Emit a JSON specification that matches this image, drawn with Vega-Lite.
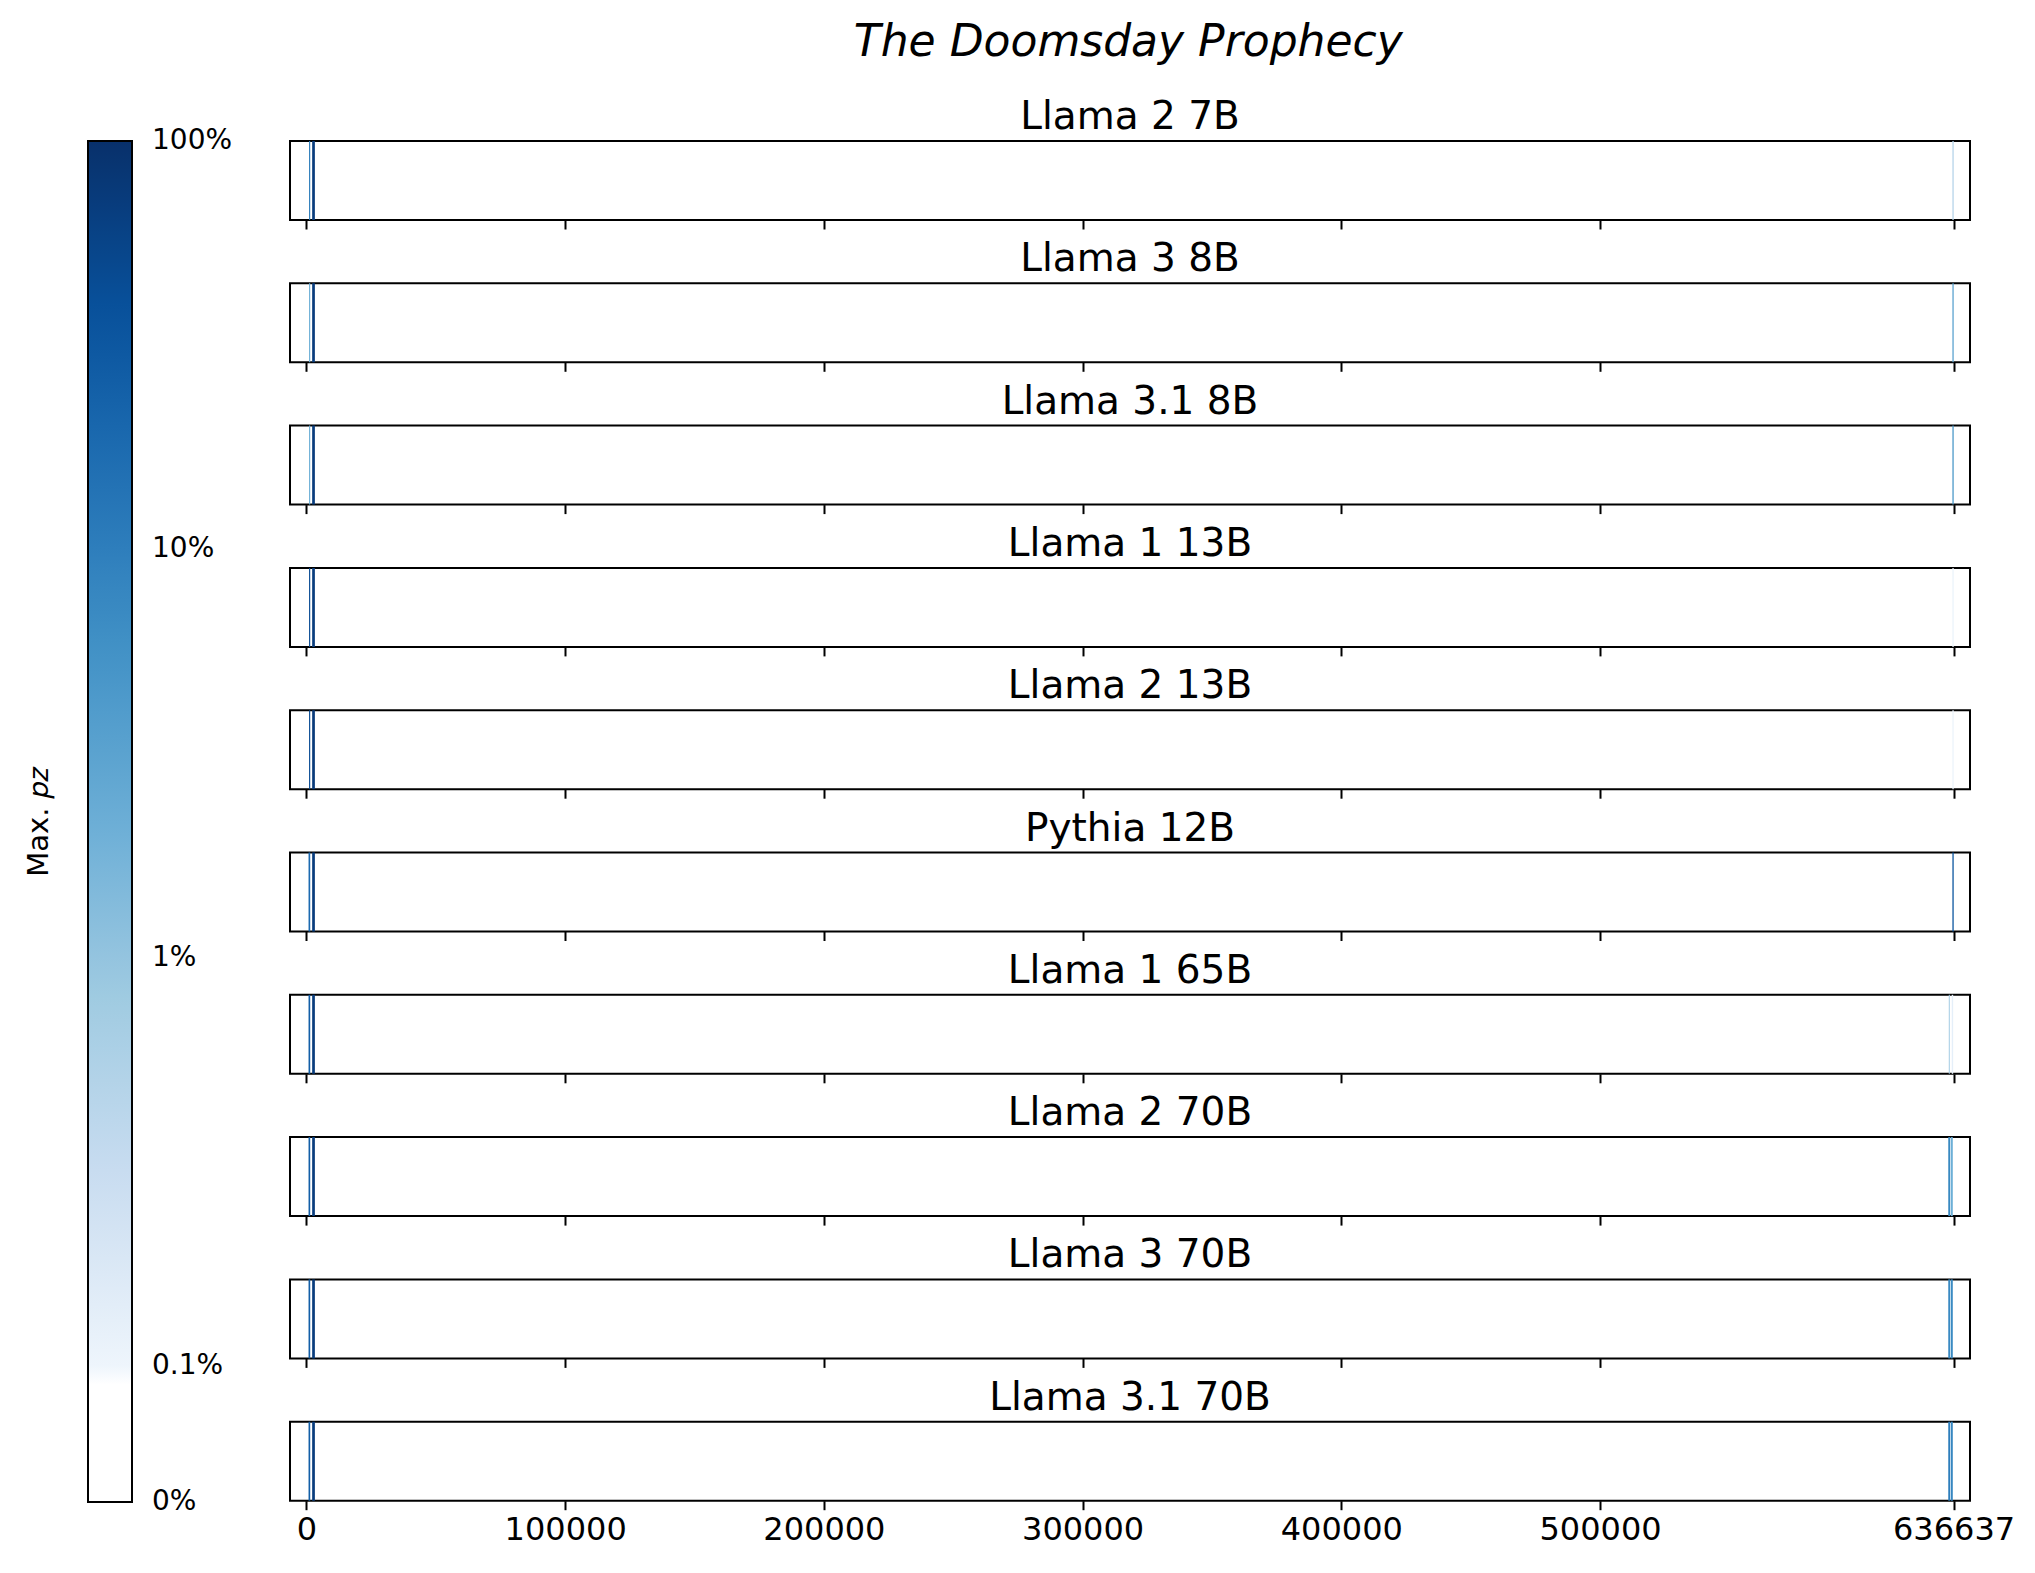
{
  "$schema": "https://vega.github.io/schema/vega-lite/v6.json",
  "background": "white",
  "padding": {"left": 25, "top": 21, "right": 40, "bottom": 10},
  "title": {"text": "The Doomsday Prophecy", "fontSize": 44, "fontStyle": "italic", "fontWeight": "normal", "font": "DejaVu Sans", "color": "black", "anchor": "middle", "offset": 32, "dx": 108},
  "data": {"values": [
    {"model": "Llama 2 7B", "start": 1000, "end": 1450, "p": 0.11},
    {"model": "Llama 2 7B", "start": 2200, "end": 3250, "p": 0.7},
    {"model": "Llama 2 7B", "start": 636200, "end": 636700, "p": 0.0046},
    {"model": "Llama 3 8B", "start": 1000, "end": 1450, "p": 0.021},
    {"model": "Llama 3 8B", "start": 2200, "end": 3250, "p": 0.7},
    {"model": "Llama 3 8B", "start": 636200, "end": 636700, "p": 0.032},
    {"model": "Llama 3.1 8B", "start": 1000, "end": 1450, "p": 0.021},
    {"model": "Llama 3.1 8B", "start": 2200, "end": 3250, "p": 0.7},
    {"model": "Llama 3.1 8B", "start": 636200, "end": 636700, "p": 0.046},
    {"model": "Llama 1 13B", "start": 1000, "end": 1450, "p": 0.46},
    {"model": "Llama 1 13B", "start": 2200, "end": 3250, "p": 0.7},
    {"model": "Llama 1 13B", "start": 636200, "end": 636700, "p": 0.0011},
    {"model": "Llama 2 13B", "start": 1000, "end": 1450, "p": 0.46},
    {"model": "Llama 2 13B", "start": 2200, "end": 3250, "p": 0.75},
    {"model": "Llama 2 13B", "start": 636200, "end": 636700, "p": 0.00105},
    {"model": "Pythia 12B", "start": 800, "end": 1450, "p": 0.18},
    {"model": "Pythia 12B", "start": 2200, "end": 3250, "p": 0.7},
    {"model": "Pythia 12B", "start": 636200, "end": 636700, "p": 0.35},
    {"model": "Llama 1 65B", "start": 800, "end": 1450, "p": 0.25},
    {"model": "Llama 1 65B", "start": 2200, "end": 3250, "p": 0.7},
    {"model": "Llama 1 65B", "start": 634800, "end": 635200, "p": 0.0068},
    {"model": "Llama 1 65B", "start": 635950, "end": 636500, "p": 0.0013},
    {"model": "Llama 2 70B", "start": 800, "end": 1450, "p": 0.25},
    {"model": "Llama 2 70B", "start": 2200, "end": 3250, "p": 0.7},
    {"model": "Llama 2 70B", "start": 634600, "end": 635350, "p": 0.074},
    {"model": "Llama 2 70B", "start": 635600, "end": 636350, "p": 0.021},
    {"model": "Llama 3 70B", "start": 800, "end": 1450, "p": 0.25},
    {"model": "Llama 3 70B", "start": 2200, "end": 3250, "p": 0.7},
    {"model": "Llama 3 70B", "start": 634600, "end": 635350, "p": 0.07},
    {"model": "Llama 3 70B", "start": 635600, "end": 636350, "p": 0.07},
    {"model": "Llama 3.1 70B", "start": 800, "end": 1450, "p": 0.25},
    {"model": "Llama 3.1 70B", "start": 2200, "end": 3250, "p": 0.7},
    {"model": "Llama 3.1 70B", "start": 634600, "end": 635350, "p": 0.1},
    {"model": "Llama 3.1 70B", "start": 635600, "end": 636350, "p": 0.08}
  ]},
  "spacing": 63.3,
  "bounds": "flush",
  "resolve": {"scale": {"color": "shared", "x": "shared"}},
  "vconcat": [
    {"title": "Llama 2 7B", "width": 1680, "height": 79, "transform": [{"filter": "datum.model === 'Llama 2 7B'"}], "mark": "rect",
     "encoding": {"x": {"field": "start", "type": "quantitative", "scale": {"domain": [-6366, 643003], "nice": false, "zero": false}, "axis": {"title": null, "labels": false, "values": [0, 100000, 200000, 300000, 400000, 500000, 636637]}}, "x2": {"field": "end"},
       "color": {"field": "p", "type": "quantitative", "scale": {"type": "log", "nice": false, "clamp": true, "interpolate": "rgb", "domain": [0.000464, 0.000999, 0.001, 0.00316, 0.00825, 0.0215, 0.0562, 0.1468, 0.383, 1], "range": ["#ffffff", "#ffffff", "#eef5fc", "#c6dbef", "#9ecae1", "#6baed6", "#4292c6", "#2171b5", "#08519c", "#08306b"]},
         "legend": {"title": "Max. 𝑝𝑧", "labelOffset": 20, "values": [0.000464, 0.001, 0.01, 0.1, 1], "labelExpr": "datum.value < 0.0009 ? '0%' : format(datum.value, '.1~%')", "encode": {"labels": {"update": {"baseline": {"value": "middle"}}}}}}}},
    {"title": "Llama 3 8B", "width": 1680, "height": 79, "transform": [{"filter": "datum.model === 'Llama 3 8B'"}], "mark": "rect",
     "encoding": {"x": {"field": "start", "type": "quantitative", "scale": {"domain": [-6366, 643003], "nice": false, "zero": false}, "axis": {"title": null, "labels": false, "values": [0, 100000, 200000, 300000, 400000, 500000, 636637]}}, "x2": {"field": "end"},
       "color": {"field": "p", "type": "quantitative", "legend": {"title": "Max. 𝑝𝑧", "labelOffset": 20, "values": [0.000464, 0.001, 0.01, 0.1, 1], "labelExpr": "datum.value < 0.0009 ? '0%' : format(datum.value, '.1~%')", "encode": {"labels": {"update": {"baseline": {"value": "middle"}}}}}}}},
    {"title": "Llama 3.1 8B", "width": 1680, "height": 79, "transform": [{"filter": "datum.model === 'Llama 3.1 8B'"}], "mark": "rect",
     "encoding": {"x": {"field": "start", "type": "quantitative", "scale": {"domain": [-6366, 643003], "nice": false, "zero": false}, "axis": {"title": null, "labels": false, "values": [0, 100000, 200000, 300000, 400000, 500000, 636637]}}, "x2": {"field": "end"},
       "color": {"field": "p", "type": "quantitative", "legend": {"title": "Max. 𝑝𝑧", "labelOffset": 20, "values": [0.000464, 0.001, 0.01, 0.1, 1], "labelExpr": "datum.value < 0.0009 ? '0%' : format(datum.value, '.1~%')", "encode": {"labels": {"update": {"baseline": {"value": "middle"}}}}}}}},
    {"title": "Llama 1 13B", "width": 1680, "height": 79, "transform": [{"filter": "datum.model === 'Llama 1 13B'"}], "mark": "rect",
     "encoding": {"x": {"field": "start", "type": "quantitative", "scale": {"domain": [-6366, 643003], "nice": false, "zero": false}, "axis": {"title": null, "labels": false, "values": [0, 100000, 200000, 300000, 400000, 500000, 636637]}}, "x2": {"field": "end"},
       "color": {"field": "p", "type": "quantitative", "legend": {"title": "Max. 𝑝𝑧", "labelOffset": 20, "values": [0.000464, 0.001, 0.01, 0.1, 1], "labelExpr": "datum.value < 0.0009 ? '0%' : format(datum.value, '.1~%')", "encode": {"labels": {"update": {"baseline": {"value": "middle"}}}}}}}},
    {"title": "Llama 2 13B", "width": 1680, "height": 79, "transform": [{"filter": "datum.model === 'Llama 2 13B'"}], "mark": "rect",
     "encoding": {"x": {"field": "start", "type": "quantitative", "scale": {"domain": [-6366, 643003], "nice": false, "zero": false}, "axis": {"title": null, "labels": false, "values": [0, 100000, 200000, 300000, 400000, 500000, 636637]}}, "x2": {"field": "end"},
       "color": {"field": "p", "type": "quantitative", "legend": {"title": "Max. 𝑝𝑧", "labelOffset": 20, "values": [0.000464, 0.001, 0.01, 0.1, 1], "labelExpr": "datum.value < 0.0009 ? '0%' : format(datum.value, '.1~%')", "encode": {"labels": {"update": {"baseline": {"value": "middle"}}}}}}}},
    {"title": "Pythia 12B", "width": 1680, "height": 79, "transform": [{"filter": "datum.model === 'Pythia 12B'"}], "mark": "rect",
     "encoding": {"x": {"field": "start", "type": "quantitative", "scale": {"domain": [-6366, 643003], "nice": false, "zero": false}, "axis": {"title": null, "labels": false, "values": [0, 100000, 200000, 300000, 400000, 500000, 636637]}}, "x2": {"field": "end"},
       "color": {"field": "p", "type": "quantitative", "legend": {"title": "Max. 𝑝𝑧", "labelOffset": 20, "values": [0.000464, 0.001, 0.01, 0.1, 1], "labelExpr": "datum.value < 0.0009 ? '0%' : format(datum.value, '.1~%')", "encode": {"labels": {"update": {"baseline": {"value": "middle"}}}}}}}},
    {"title": "Llama 1 65B", "width": 1680, "height": 79, "transform": [{"filter": "datum.model === 'Llama 1 65B'"}], "mark": "rect",
     "encoding": {"x": {"field": "start", "type": "quantitative", "scale": {"domain": [-6366, 643003], "nice": false, "zero": false}, "axis": {"title": null, "labels": false, "values": [0, 100000, 200000, 300000, 400000, 500000, 636637]}}, "x2": {"field": "end"},
       "color": {"field": "p", "type": "quantitative", "legend": {"title": "Max. 𝑝𝑧", "labelOffset": 20, "values": [0.000464, 0.001, 0.01, 0.1, 1], "labelExpr": "datum.value < 0.0009 ? '0%' : format(datum.value, '.1~%')", "encode": {"labels": {"update": {"baseline": {"value": "middle"}}}}}}}},
    {"title": "Llama 2 70B", "width": 1680, "height": 79, "transform": [{"filter": "datum.model === 'Llama 2 70B'"}], "mark": "rect",
     "encoding": {"x": {"field": "start", "type": "quantitative", "scale": {"domain": [-6366, 643003], "nice": false, "zero": false}, "axis": {"title": null, "labels": false, "values": [0, 100000, 200000, 300000, 400000, 500000, 636637]}}, "x2": {"field": "end"},
       "color": {"field": "p", "type": "quantitative", "legend": {"title": "Max. 𝑝𝑧", "labelOffset": 20, "values": [0.000464, 0.001, 0.01, 0.1, 1], "labelExpr": "datum.value < 0.0009 ? '0%' : format(datum.value, '.1~%')", "encode": {"labels": {"update": {"baseline": {"value": "middle"}}}}}}}},
    {"title": "Llama 3 70B", "width": 1680, "height": 79, "transform": [{"filter": "datum.model === 'Llama 3 70B'"}], "mark": "rect",
     "encoding": {"x": {"field": "start", "type": "quantitative", "scale": {"domain": [-6366, 643003], "nice": false, "zero": false}, "axis": {"title": null, "labels": false, "values": [0, 100000, 200000, 300000, 400000, 500000, 636637]}}, "x2": {"field": "end"},
       "color": {"field": "p", "type": "quantitative", "legend": {"title": "Max. 𝑝𝑧", "labelOffset": 20, "values": [0.000464, 0.001, 0.01, 0.1, 1], "labelExpr": "datum.value < 0.0009 ? '0%' : format(datum.value, '.1~%')", "encode": {"labels": {"update": {"baseline": {"value": "middle"}}}}}}}},
    {"title": "Llama 3.1 70B", "width": 1680, "height": 79, "transform": [{"filter": "datum.model === 'Llama 3.1 70B'"}], "mark": "rect",
     "encoding": {"x": {"field": "start", "type": "quantitative", "scale": {"domain": [-6366, 643003], "nice": false, "zero": false}, "axis": {"title": null, "labels": true, "format": "d", "values": [0, 100000, 200000, 300000, 400000, 500000, 636637]}}, "x2": {"field": "end"},
       "color": {"field": "p", "type": "quantitative", "legend": {"title": "Max. 𝑝𝑧", "labelOffset": 20, "values": [0.000464, 0.001, 0.01, 0.1, 1], "labelExpr": "datum.value < 0.0009 ? '0%' : format(datum.value, '.1~%')", "encode": {"labels": {"update": {"baseline": {"value": "middle"}}}}}}}}
  ],
  "config": {
    "font": "DejaVu Sans",
    "view": {"stroke": "black", "strokeWidth": 2},
    "title": {"fontSize": 39, "fontWeight": "normal", "color": "black", "offset": 0, "baseline": "alphabetic"},
    "axis": {"domain": false, "grid": false, "ticks": true, "tickColor": "black", "tickWidth": 2, "tickSize": 9, "labelFontSize": 32, "labelColor": "black", "labelPadding": 5, "labelFlush": false, "labelOverlap": false},
    "legend": {"orient": "left", "offset": 56, "titleOrient": "left", "titleAnchor": "middle", "titlePadding": 33, "titleFontSize": 29, "titleFontWeight": "normal", "titleColor": "black", "gradientLength": 1361, "gradientThickness": 44, "gradientStrokeColor": "black", "gradientStrokeWidth": 2, "labelFontSize": 28, "labelColor": "black", "labelOverlap": false}
  }
}
